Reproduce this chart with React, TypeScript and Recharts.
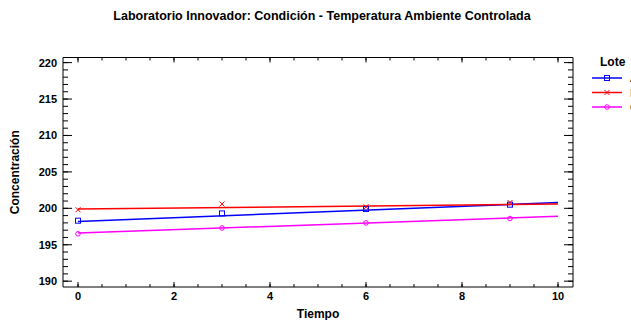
import { ComposedChart, Line, Scatter, XAxis, YAxis, ReferenceLine } from 'recharts'

const tiempo = [0, 3, 6, 9]
const loteA = [198.3, 199.3, 199.9, 200.5]
const loteB = [199.8, 200.6, 200.2, 200.8]
const loteC = [196.5, 197.3, 198.0, 198.6]

// fitted lines: value at t=0 and t=10
const ajusteT = [0, 10]
const ajusteA = [198.2, 200.8]
const ajusteB = [199.9, 200.6]
const ajusteC = [196.6, 198.9]

const xTicks = [0, 2, 4, 6, 8, 10]
const yTicks = [190, 195, 200, 205, 210, 215, 220]
const xMinor = Array.from({ length: 21 }, (_, i) => i * 0.5)
const yMinor = Array.from({ length: 31 }, (_, i) => 190 + i)

const xDomain = [-0.3125, 10.3125]
const yDomain = [189.2, 220.7]
// plot is 229.5px tall, so tick lengths in y units
const pxY = (yDomain[1] - yDomain[0]) / 229.5

const font = '"Liberation Sans", Arial, sans-serif'

const toPoints = (xs: number[], ys: number[]) => xs.map((x, i) => ({ x, y: ys[i] }))

const series = [
  { name: 'A', color: '#0000ff', marker: 'square', pts: loteA, fit: ajusteA },
  { name: 'B', color: '#ff0000', marker: 'cross', pts: loteB, fit: ajusteB },
  { name: 'C', color: '#ff00ff', marker: 'circle', pts: loteC, fit: ajusteC },
]

function Marker({ cx, cy, kind, color }: { cx: number; cy: number; kind: string; color: string }) {
  if (kind === 'square')
    return <rect x={cx - 2.5} y={cy - 2.5} width={5} height={5} fill="none" stroke={color} strokeWidth={1} />
  if (kind === 'cross')
    return (
      <g stroke={color} strokeWidth={1}>
        <line x1={cx - 2.5} y1={cy - 2.5} x2={cx + 2.5} y2={cy + 2.5} />
        <line x1={cx - 2.5} y1={cy + 2.5} x2={cx + 2.5} y2={cy - 2.5} />
      </g>
    )
  return <circle cx={cx} cy={cy} r={2.3} fill="none" stroke={color} strokeWidth={1} />
}

const tickStyle = { fill: '#000', fontSize: 11, fontWeight: 700, fontFamily: font }
const titleStyle = { ...tickStyle, fontSize: 12 }
const black = { stroke: '#000', strokeWidth: 1 }
const noLabel = () => <g />
const thin = 0.01

// inward x tick marks on bottom and top edges, placed through the axis scales
const xTickMarks = (ticks: number[], len: number) =>
  ticks.flatMap((t) => [
    <ReferenceLine key={`b-${len}-${t}`} xAxisId="b" yAxisId="l" ifOverflow="visible" stroke="#000" strokeWidth={1}
      segment={[{ x: t, y: yDomain[0] }, { x: t, y: yDomain[0] + len * pxY }]} />,
    <ReferenceLine key={`t-${len}-${t}`} xAxisId="b" yAxisId="l" ifOverflow="visible" stroke="#000" strokeWidth={1}
      segment={[{ x: t, y: yDomain[1] }, { x: t, y: yDomain[1] - len * pxY }]} />,
  ])

export default function App() {
  return (
    <div style={{ position: 'absolute', left: 0, top: 0, width: 631, height: 320, background: '#fff' }}>
      <ComposedChart width={631} height={320} margin={{ top: 57.5, right: 58, bottom: 0, left: 13 }}>
        <XAxis xAxisId="b" dataKey="x" type="number" domain={xDomain} allowDataOverflow ticks={xTicks} interval={0}
          tickLine={false} tickSize={3} tickMargin={2} axisLine={black} tick={tickStyle} height={33}
          label={(p: any) => (
            <text x={p.viewBox.x + p.viewBox.width / 2} y={p.viewBox.y + 31} textAnchor="middle"
              style={titleStyle}>Tiempo</text>
          )} />
        <XAxis xAxisId="tMaj" type="number" domain={xDomain} allowDataOverflow ticks={xTicks} interval={0}
          height={thin} orientation="top" tick={noLabel} tickLine={false} axisLine={black} />

        {/* left axis with labels */}
        <YAxis yAxisId="l" dataKey="y" type="number" domain={yDomain} allowDataOverflow ticks={yTicks}
          tickLine={false} tickSize={4} tickMargin={2} axisLine={black} tick={tickStyle} width={50}
          label={(p: any) => {
            const cx = 19
            const cy = p.viewBox.y + p.viewBox.height / 2
            return (
              <text x={cx} y={cy} textAnchor="middle" transform={`rotate(-90 ${cx} ${cy})`} style={titleStyle}>
                Concentración
              </text>
            )
          }} />
        <YAxis yAxisId="lMaj" type="number" domain={yDomain} allowDataOverflow ticks={yTicks} mirror interval={0}
          width={thin} orientation="left" tick={noLabel} tickSize={9} tickLine={black} axisLine={false} />
        <YAxis yAxisId="lMin" type="number" domain={yDomain} allowDataOverflow ticks={yMinor} mirror interval={0}
          width={thin} orientation="left" tick={noLabel} tickSize={5} tickLine={black} axisLine={false} />
        <YAxis yAxisId="rMaj" type="number" domain={yDomain} allowDataOverflow ticks={yTicks} mirror interval={0}
          width={thin} orientation="right" tick={noLabel} tickSize={9} tickLine={black} axisLine={black} />
        <YAxis yAxisId="rMin" type="number" domain={yDomain} allowDataOverflow ticks={yMinor} mirror interval={0}
          width={thin} orientation="right" tick={noLabel} tickSize={5} tickLine={black} axisLine={false} />

        {xTickMarks(xMinor, 3)}
        {xTickMarks(xTicks, 5)}

        {series.map((s) => (
          <Line key={`fit-${s.name}`} xAxisId="b" yAxisId="l" data={toPoints(ajusteT, s.fit)} dataKey="y"
            type="linear" stroke={s.color} strokeWidth={1.5} dot={false} activeDot={false}
            isAnimationActive={false} legendType="none" />
        ))}
        {series.map((s) => (
          <Scatter key={`pts-${s.name}`} xAxisId="b" yAxisId="l" data={toPoints(tiempo, s.pts)} dataKey="y"
            isAnimationActive={false}
            shape={(p: any) => <Marker cx={p.cx} cy={p.cy} kind={s.marker} color={s.color} />} />
        ))}
      </ComposedChart>

      <svg width={631} height={320} style={{ position: 'absolute', left: 0, top: 0, pointerEvents: 'none' }}>
        <text x={322} y={20} textAnchor="middle" style={{ ...tickStyle, fontSize: 12.5 }}>
          Laboratorio Innovador: Condición - Temperatura Ambiente Controlada
        </text>
        <text x={600} y={66} style={titleStyle}>Lote</text>
        {series.map((s, i) => {
          const y = 78 + i * 14.5
          return (
            <g key={s.name}>
              <line x1={592} x2={622} y1={y} y2={y} stroke={s.color} strokeWidth={1.5} />
              <Marker cx={607} cy={y} kind={s.marker} color={s.color} />
              <text x={630} y={y + 4} style={{ ...tickStyle, fontWeight: 400, fill: '#000' }}>{s.name}</text>
            </g>
          )
        })}
      </svg>
    </div>
  )
}
